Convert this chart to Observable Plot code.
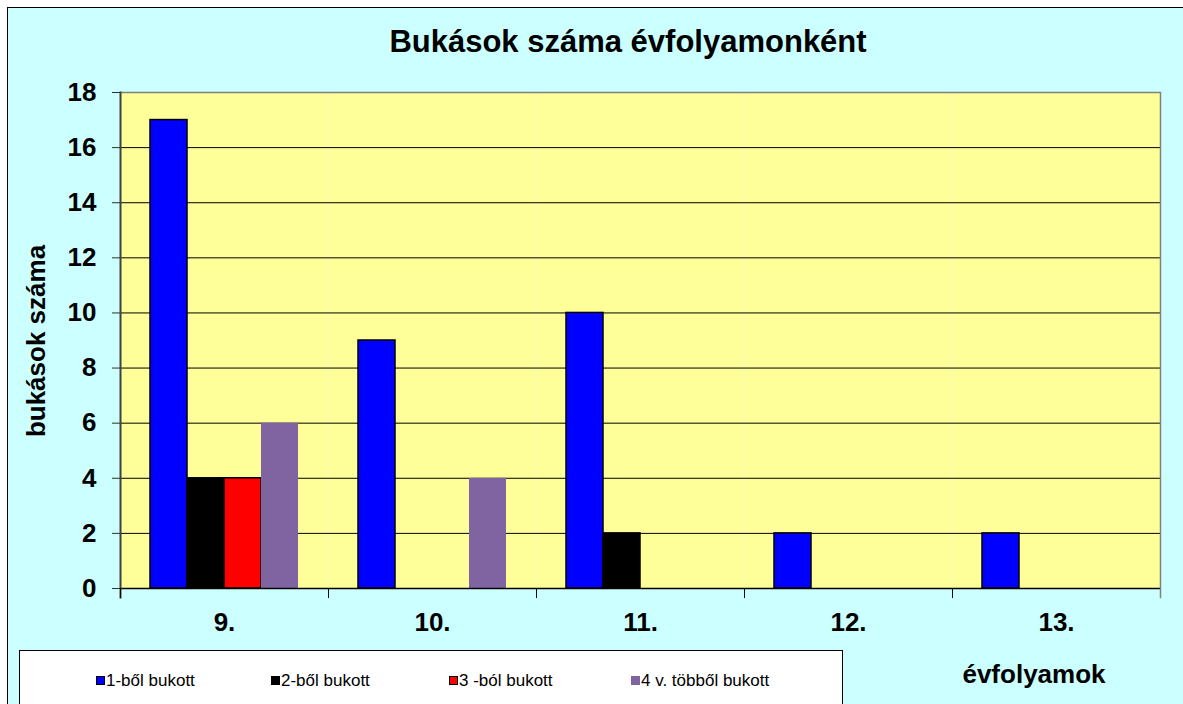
<!DOCTYPE html>
<html>
<head>
<meta charset="utf-8">
<script src="https://cdn.jsdelivr.net/npm/d3@7"></script>
<script src="https://cdn.jsdelivr.net/npm/@observablehq/plot@0.6"></script>
<style>
  html, body { margin: 0; padding: 0; background: #ffffff; }
  #wrap { position: relative; width: 1183px; height: 704px; overflow: hidden; font-family: "Liberation Sans", Arial, sans-serif; }
  #bg { position: absolute; left: 7px; top: 7px; width: 1200px; height: 720px; background: #CCFFFF; border: 1px solid #000; }
  #chart { position: absolute; left: 0; top: 0; }
  .title { position: absolute; left: 128px; width: 1000px; top: 26px; text-align: center; font-size: 31px; line-height: 31px; font-weight: bold; color: #000; white-space: nowrap; }
  .ylabel { position: absolute; left: -114px; top: 328px; width: 300px; height: 26px; line-height: 26px; font-size: 26px; font-weight: bold; text-align: center; transform: rotate(-90deg); white-space: nowrap; }
  .xlabel { position: absolute; left: 934px; top: 661px; width: 200px; text-align: center; font-size: 26px; line-height: 26px; font-weight: bold; white-space: nowrap; }
  #legend { position: absolute; left: 19px; top: 650px; width: 822px; height: 80px; background: #fff; border: 1px solid #000; }
  .item { position: absolute; top: 21px; height: 17px; line-height: 17px; font-size: 17px; white-space: nowrap; }
  .sw { position: absolute; left: 0; top: 4px; width: 7px; height: 7px; border: 1px solid #000; }
  .item span.t { position: absolute; left: 10px; top: 0; }
</style>
</head>
<body>
<div id="wrap">
  <div id="bg"></div>
  <div class="title" id="title"></div>
  <div id="chart"></div>
  <div class="ylabel" id="ylabel"></div>
  <div class="xlabel" id="xlabel"></div>
  <div id="legend"></div>
</div>
<script>
// ---- data ----
const titleText = "Bukások száma évfolyamonként";
const yLabelText = "bukások száma";
const xLabelText = "évfolyamok";
const categories = ["9.", "10.", "11.", "12.", "13."];
const seriesNames = ["1-ből bukott", "2-ből bukott", "3 -ból bukott", "4 v. többől bukott"];
const fail1 = [17, 9, 10, 2, 2];
const fail2 = [4, 0, 2, 0, 0];
const fail3 = [4, 0, 0, 0, 0];
const fail4 = [6, 4, 0, 0, 0];
const seriesColors = ["#0000FF", "#000000", "#FF0000", "#8064A2"];
const yTicks = [0, 2, 4, 6, 8, 10, 12, 14, 16, 18];

const seriesValues = [fail1, fail2, fail3, fail4];
const data = categories.flatMap((c, i) =>
  seriesValues.map((vals, j) => ({grade: c, series: seriesNames[j], value: vals[i]}))
);

document.getElementById("title").textContent = titleText;
document.getElementById("ylabel").textContent = yLabelText;
document.getElementById("xlabel").textContent = xLabelText;

// legend
const legendLefts = [76, 251, 429, 611];
const legend = document.getElementById("legend");
seriesNames.forEach((name, i) => {
  const it = document.createElement("div");
  it.className = "item";
  it.style.left = legendLefts[i] + "px";
  const sw = document.createElement("div");
  sw.className = "sw";
  sw.style.background = seriesColors[i];
  if (i === 3) sw.style.borderColor = seriesColors[i];
  const t = document.createElement("span");
  t.className = "t";
  t.textContent = name;
  it.appendChild(sw); it.appendChild(t);
  legend.appendChild(it);
});

const W = 1183, H = 704, mT = 92, mB = 116, mL = 120, mR = 23;
const innerH = H - mT - mB;

const chart = Plot.plot({
  width: W,
  height: H,
  marginTop: mT, marginBottom: mB, marginLeft: mL, marginRight: mR,
  style: {background: "transparent", overflow: "visible", fontFamily: "'Liberation Sans', Arial, sans-serif", color: "#000"},
  fx: {domain: categories, padding: 0, label: null},
  x: {domain: seriesNames, paddingInner: 0, paddingOuter: 0.737, axis: null},
  y: {domain: [0, 18], label: null},
  color: {domain: seriesNames, range: seriesColors},
  marks: [
    Plot.frame({fill: "#FFFF99"}),
    Plot.ruleY(yTicks.filter(t => t > 0 && t < 18), {stroke: "#000", strokeWidth: 1}),
    Plot.ruleY([18], {stroke: "#808080", strokeWidth: 1.5}),
    Plot.barY(data.filter(d => d.series !== seriesNames[3]), {fx: "grade", x: "series", y: "value", fill: "series", stroke: "#000", strokeWidth: 1.5}),
    Plot.barY(data.filter(d => d.series === seriesNames[3]), {fx: "grade", x: "series", y: "value", fill: "series"}),
    Plot.ruleY([0], {stroke: "#000", strokeWidth: 1.5}),
    Plot.frame({anchor: "left", stroke: "#404040", strokeWidth: 2, insetBottom: -9, facetAnchor: "left"}),
    Plot.frame({anchor: "right", stroke: "#808080", strokeWidth: 1.5, insetBottom: -9, facetAnchor: "right"}),
    Plot.frame({anchor: "left", stroke: "#000", strokeWidth: 1, insetTop: innerH, insetBottom: -9}),
    Plot.axisY({ticks: yTicks, tickSize: 8, tickPadding: 16, fontSize: 26, fontWeight: "bold", label: null, stroke: "#303030"}),
    Plot.axisFx({anchor: "bottom", tickSize: 0, tickPadding: 24, fontSize: 26, fontWeight: "bold", label: null})
  ]
});
document.getElementById("chart").appendChild(chart);
</script>
</body>
</html>
